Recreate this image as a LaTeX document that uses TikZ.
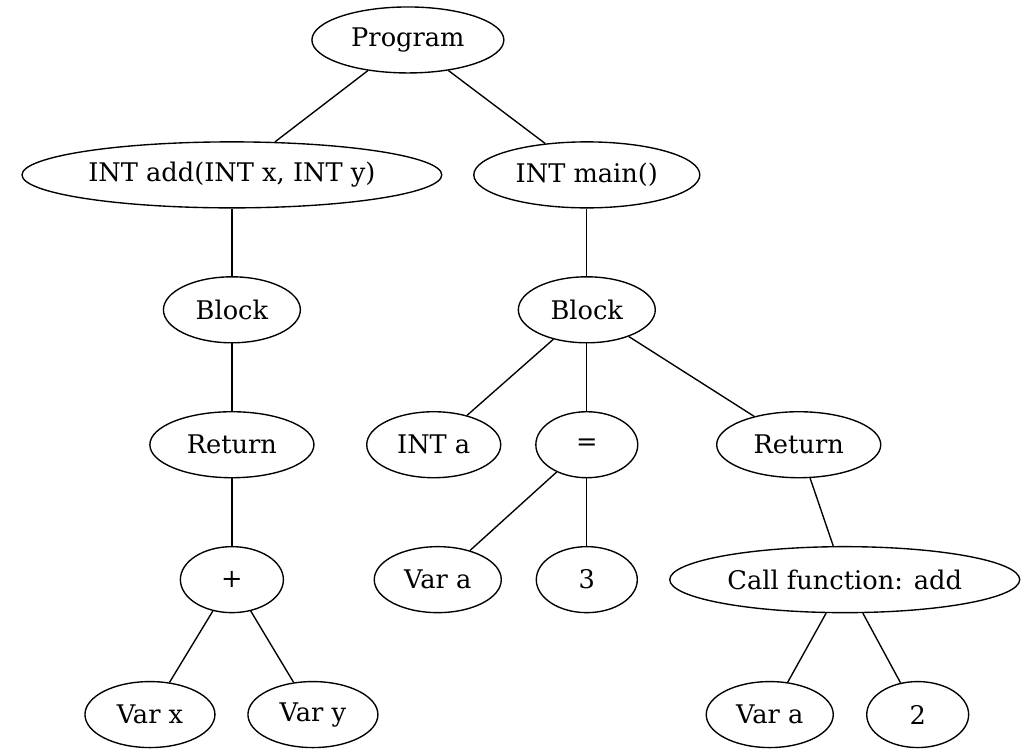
\documentclass[tikz,border=0pt]{standalone}
\usepackage{fontspec}
\setmainfont{DejaVu Serif}
\usetikzlibrary{shapes.geometric,positioning}

\begin{document}
\begin{tikzpicture}[node distance=73.6pt, line width=0.75pt,
                    every node/.style={font=\fontsize{14pt}{16pt}\selectfont},
                    ast/.style={draw, ellipse, inner sep=0pt, minimum height=36pt, minimum width=54pt}]

\useasboundingbox (0,0) rectangle (557.5pt,-409.1pt);

\node[ast, minimum width=104.7pt] (prog) at (222.5pt,-21.8pt) {Program};
\node[ast, minimum width=229pt] (addf) [below of=prog, xshift=-96pt] {INT add(INT x, INT y)};
\node[ast, minimum width=123.3pt] (mainf) [below of=prog, xshift=97.6pt] {INT main()};
\node[ast, minimum width=74.7pt] (blkadd) [below of=addf] {Block};
\node[ast, minimum width=74.7pt] (blkmain) [below of=mainf] {Block};
\node[ast, minimum width=89.5pt] (retadd) [below of=blkadd] {Return};
\node[ast, minimum width=73.1pt] (decla) [below of=blkmain, xshift=-83.5pt] {INT a};
\node[ast, minimum width=55.6pt] (assign) [below of=blkmain] {=};
\node[ast, minimum width=89.5pt] (retmain) [below of=blkmain, xshift=115.6pt] {Return};
\node[ast, minimum width=56.2pt] (plus) [below of=retadd] {+};
\node[ast, minimum width=69.3pt] (lhs) [below of=assign, xshift=-81.3pt] {Var a};
\node[ast, minimum width=55.1pt] (three) [below of=assign] {3};
\node[ast, minimum width=190.9pt] (call) [below of=retmain, xshift=25.1pt] {Call function: add};
\node[ast, minimum width=70.9pt] (varx) [below of=plus, xshift=-44.7pt] {Var x};
\node[ast, minimum width=70.9pt] (vary) [below of=plus, xshift=44.2pt] {Var y};
\node[ast, minimum width=69.3pt] (arga) [below of=call, xshift=-40.9pt] {Var a};
\node[ast, minimum width=55.6pt] (two) [below of=call, xshift=39.8pt] {2};

\draw (prog) -- (addf);
\draw (prog) -- (mainf);
\draw (addf) -- (blkadd);
\draw (blkadd) -- (retadd);
\draw (retadd) -- (plus);
\draw (plus) -- (varx);
\draw (plus) -- (vary);
\draw (mainf) -- (blkmain);
\draw (blkmain) -- (decla);
\draw (blkmain) -- (assign);
\draw (blkmain) -- (retmain);
\draw (assign) -- (lhs);
\draw (assign) -- (three);
\draw (retmain) -- (call);
\draw (call) -- (arga);
\draw (call) -- (two);
\end{tikzpicture}
\end{document}
